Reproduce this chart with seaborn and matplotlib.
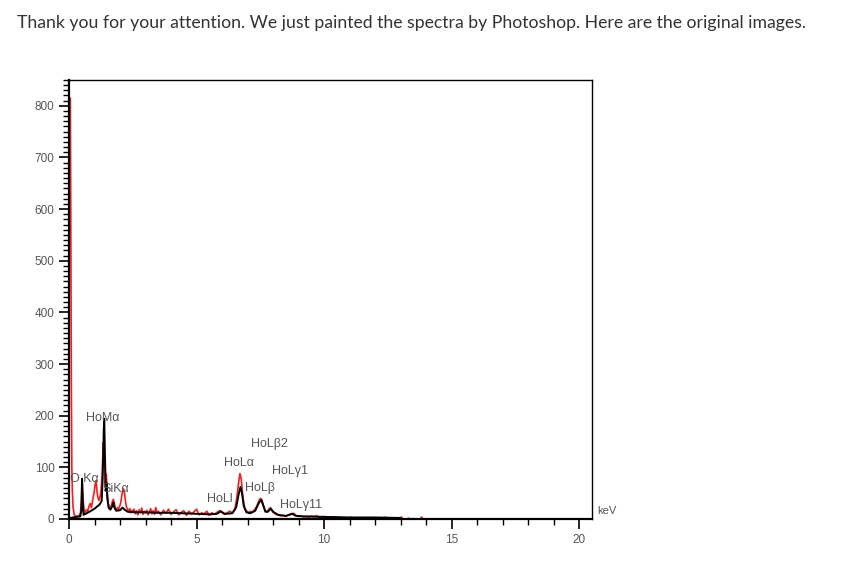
import numpy as np
import pandas as pd
import matplotlib
matplotlib.use("Agg")
import matplotlib.pyplot as plt
from matplotlib.ticker import MultipleLocator
import seaborn as sns

# measured spectrum (red), energy in keV and counts
meas_kev = [0.03, 0.05, 0.07, 0.09, 0.11, 0.13, 0.16, 0.20, 0.25, 0.30,
            0.36, 0.41, 0.45, 0.49, 0.52, 0.55, 0.59, 0.63, 0.68, 0.73,
            0.78, 0.83, 0.88, 0.93, 0.98, 1.02, 1.06, 1.10, 1.14, 1.18,
            1.22, 1.26, 1.30, 1.34, 1.38, 1.42, 1.46, 1.50, 1.54, 1.58,
            1.62, 1.66, 1.70, 1.74, 1.78, 1.82, 1.86, 1.90, 1.94, 1.98,
            2.02, 2.06, 2.10, 2.14, 2.18, 2.22, 2.26, 2.30, 2.34, 2.38,
            2.42, 2.46, 2.50,
            2.55, 2.6, 2.65, 2.7, 2.75, 2.8, 2.85, 2.9, 2.95, 3.0,
            3.05, 3.1, 3.15, 3.2, 3.25, 3.3, 3.35, 3.4, 3.45, 3.5,
            3.6, 3.7, 3.8, 3.9, 4.0, 4.1, 4.2, 4.3, 4.4, 4.5,
            4.6, 4.7, 4.8, 4.9, 5.0, 5.1, 5.2, 5.3, 5.4, 5.5,
            5.6, 5.7, 5.8, 5.9, 6.0, 6.1, 6.2, 6.3,
            6.40, 6.45, 6.50, 6.55, 6.60, 6.65, 6.70, 6.75, 6.80, 6.85,
            6.90, 6.95, 7.00, 7.05, 7.10, 7.15, 7.20, 7.25, 7.30, 7.35,
            7.40, 7.45, 7.50, 7.55, 7.60, 7.65, 7.70, 7.75, 7.80, 7.85,
            7.90, 7.95, 8.00,
            8.1, 8.2, 8.3, 8.4, 8.5, 8.6, 8.7, 8.8, 8.9, 9.0,
            9.1, 9.2, 9.3, 9.4, 9.5, 9.6, 9.7, 9.8, 9.9, 10.0,
            10.1, 10.2, 10.3, 10.4, 10.5, 10.6, 10.7]
meas_counts = [815, 815, 580, 272, 100, 55, 22, 9, 5, 6,
               5, 8, 12, 35, 70, 40, 16, 12, 18, 15,
               24, 30, 22, 38, 50, 66, 74, 52, 40, 36,
               44, 58, 90, 148, 120, 62, 87, 52, 30, 24,
               22, 26, 34, 38, 30, 20, 18, 22, 19, 24,
               30, 42, 55, 58, 48, 32, 22, 18, 14, 20,
               12, 17, 13,
               19, 10, 16, 8, 18, 12, 21, 9, 15, 11,
               17, 8, 14, 20, 10, 16, 9, 22, 12, 15,
               8, 17, 11, 19, 9, 14, 18, 8, 13, 16,
               7, 15, 10, 14, 19, 8, 12, 10, 15, 7,
               12, 9, 13, 16, 12, 9, 12, 15,
               12, 15, 20, 32, 50, 72, 88, 78, 50, 30,
               20, 16, 14, 12, 15, 13, 14, 17, 20, 24,
               30, 36, 40, 38, 30, 20, 15, 14, 17, 20,
               22, 18, 13,
               9, 8, 6, 7, 5, 8, 10, 11, 7, 5,
               6, 4, 5, 3, 5, 4, 6, 3, 4, 5,
               3, 4, 2, 4, 3, 3, 2]

# stray red points past the end of the measured trace
dots_kev = [11.0, 11.3, 12.4, 12.7, 13.0, 13.3, 13.8]
dots_counts = [3, 2, 3, 2, 3, 2, 3]

# fitted spectrum (black)
fit_kev = [0.00, 0.05, 0.15, 0.30, 0.44, 0.48, 0.51, 0.54, 0.57, 0.65,
           0.80, 1.00, 1.20, 1.28, 1.32, 1.36, 1.38, 1.41, 1.44, 1.47,
           1.50, 1.55, 1.62, 1.70, 1.74, 1.78, 1.85, 2.00, 2.10, 2.18,
           2.30, 2.60, 3.00, 3.50, 4.00, 4.50, 5.00, 5.50, 5.80, 5.95,
           6.10, 6.40, 6.55, 6.65, 6.72, 6.78, 6.85, 6.95, 7.10, 7.30,
           7.45, 7.53, 7.60, 7.70, 7.80, 7.90, 8.00, 8.20, 8.50, 8.75,
           8.90, 9.20, 9.50, 10.0, 11.0, 12.0, 13.0]
fit_counts = [0, 2, 3, 4, 5, 15, 78, 30, 8, 10,
              14, 20, 28, 35, 80, 170, 194, 120, 55, 70,
              40, 22, 18, 25, 32, 22, 16, 17, 22, 18,
              14, 13, 13, 12, 12, 11, 10, 9, 10, 15,
              10, 11, 22, 48, 62, 50, 25, 13, 11, 16,
              32, 37, 28, 14, 14, 20, 14, 8, 6, 10,
              6, 5, 5, 4, 3, 3, 2]

peak_labels = ["O Kα", "HoMα", "SiKα", "HoLl", "HoLα", "HoLβ",
               "HoLβ2", "HoLγ1", "HoLγ11"]
label_kev = [0.02, 0.67, 1.29, 5.41, 6.08, 6.90, 7.14, 7.96, 8.27]
label_counts = [78, 196, 58, 39, 109, 60, 146, 93, 27]

meas = pd.DataFrame({"keV": meas_kev, "counts": meas_counts})
fit = pd.DataFrame({"keV": fit_kev, "counts": fit_counts})

sns.set_style("ticks")
plt.rcParams["font.family"] = ["Liberation Sans", "DejaVu Sans"]

fig = plt.figure(figsize=(8.5, 5.75), dpi=100)
ax = fig.add_axes([0.0812, 0.0974, 0.6153, 0.7635])

sns.lineplot(data=meas, x="keV", y="counts", ax=ax, color="#ff1a1a",
             linewidth=1.2, sort=False, estimator=None)
sns.lineplot(data=fit, x="keV", y="counts", ax=ax, color="black",
             linewidth=1.4, sort=False, estimator=None)
sns.scatterplot(x=dots_kev, y=dots_counts, ax=ax, color="#ff1a1a",
                s=3, linewidth=0)

for lab, xk, yc in zip(peak_labels, label_kev, label_counts):
    ax.text(xk, yc, lab, fontsize=9, color="#555555", va="center",
            ha="left")

ax.set_xlim(0, 20.5)
ax.set_ylim(0, 850)
ax.set_xlabel("")
ax.set_ylabel("")
ax.xaxis.set_major_locator(MultipleLocator(5))
ax.xaxis.set_minor_locator(MultipleLocator(1))
ax.yaxis.set_major_locator(MultipleLocator(100))
ax.yaxis.set_minor_locator(MultipleLocator(10))
ax.tick_params(which="major", length=7, width=1.2, labelsize=8.5,
               labelcolor="#555555", color="black")
ax.tick_params(which="minor", length=4, width=1.0, color="black")
for s in ax.spines.values():
    s.set_color("black")
    s.set_linewidth(1.0)
ax.spines["left"].set_linewidth(1.6)
ax.spines["bottom"].set_linewidth(1.6)

ax.text(20.7, 16, "keV", fontsize=8, color="#555555", ha="left",
        va="center", clip_on=False)

fig.text(0.02, 0.96,
         "Thank you for your attention. We just painted the spectra by "
         "Photoshop. Here are the original images.",
         fontsize=12.7, color="#333333", family=["Lato", "DejaVu Sans"],
         va="center", ha="left")

fig.savefig("out.png", dpi=100)
